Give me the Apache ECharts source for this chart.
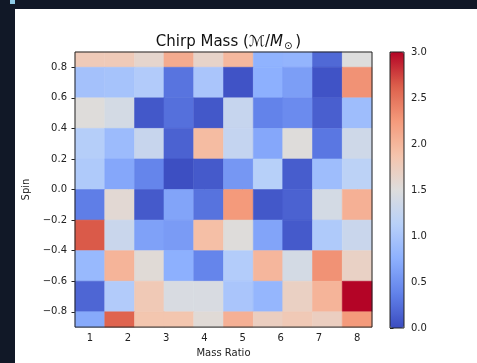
<!DOCTYPE html>
<html>
<head>
<meta charset="utf-8">
<script src="https://cdn.jsdelivr.net/npm/echarts@6/dist/echarts.min.js"></script>
<style>
  html, body { margin: 0; padding: 0; background: #111827; }
  #chart { width: 477px; height: 363px; }
</style>
</head>
<body>
<div id="chart"></div>
<script>
  // cell centres
  const massRatio = [1.0, 1.78, 2.56, 3.33, 4.11, 4.89, 5.67, 6.44, 7.22, 8.0]
  const spin = [0.9, 0.7, 0.5, 0.3, 0.1, -0.1, -0.3, -0.5, -0.7, -0.9]
  // chirp mass, rows top (spin 0.9) to bottom (spin -0.9)
  const chirpMass = [
    [1.78, 1.78, 1.62, 2.1, 1.65, 1.98, 0.78, 0.8, 0.2, 1.5],
    [0.95, 0.97, 1.07, 0.28, 1.0, 0.05, 0.75, 0.6, 0.05, 2.3],
    [1.52, 1.4, 0.08, 0.25, 0.08, 1.27, 0.38, 0.45, 0.13, 0.9],
    [1.1, 0.88, 1.28, 0.15, 1.95, 1.25, 0.68, 1.52, 0.3, 1.35],
    [1.05, 0.68, 0.4, 0.02, 0.1, 0.55, 1.12, 0.12, 0.9, 1.17],
    [0.35, 1.58, 0.1, 0.65, 0.27, 2.25, 0.08, 0.15, 1.4, 2.05],
    [2.65, 1.3, 0.63, 0.58, 1.92, 1.52, 0.65, 0.1, 1.05, 1.3],
    [0.85, 2.02, 1.55, 0.75, 0.4, 1.08, 2.0, 1.4, 2.3, 1.68],
    [0.18, 1.07, 1.8, 1.45, 1.45, 1.0, 0.82, 1.7, 2.02, 3.0],
    [0.7, 2.6, 1.85, 1.85, 1.55, 2.05, 1.72, 1.8, 1.72, 2.25],
  ]
  const xTicks = [1, 2, 3, 4, 5, 6, 7, 8]
  const yTicks = [-0.8, -0.6, -0.4, -0.2, 0, 0.2, 0.4, 0.6, 0.8]
  const coolwarm = ['#3b4cc0', '#6282ea', '#8db0fe', '#b8d0f9', '#dddddd', '#f5c4ac', '#f49a7b', '#dd604c', '#b40426']

  const cellW = 7 / 9
  const cellH = 0.2
  const font = 'DejaVu Sans'
  const textColor = '#222'

  const data = []
  spin.forEach((y, i) => {
    massRatio.forEach((x, j) => {
      data.push([x, y, chirpMass[i][j]])
    })
  })

  const chart = echarts.init(document.getElementById('chart'))
  chart.setOption({
    backgroundColor: '#111827',
    animation: false,
    graphic: [
      { type: 'rect', left: 15, top: 9, shape: { width: 462, height: 354 }, style: { fill: '#ffffff' }, z: -10 },
      { type: 'rect', left: 10, top: 0, shape: { width: 5, height: 4 }, style: { fill: '#8ecae6' }, z: -10 },
    ],
    title: {
      text: 'Chirp Mass ({c|ℳ}/{i|M}{s|⊙})',
      left: 223.5,
      top: 28,
      textAlign: 'center',
      textStyle: {
        fontFamily: font,
        fontSize: 15,
        fontWeight: 'normal',
        color: '#111',
        rich: {
          c: { fontFamily: font, fontSize: 15, fontStyle: 'italic', color: '#111' },
          i: { fontFamily: font, fontSize: 15, fontStyle: 'italic', color: '#111' },
          s: { fontFamily: font, fontSize: 10, color: '#111', padding: [8, 3, 0, 1] },
        },
      },
    },
    grid: [
      { left: 75, top: 52, width: 297, height: 276, show: true, borderColor: '#222', borderWidth: 1, backgroundColor: 'transparent', z: 10 },
      { left: 390, top: 52, width: 14, height: 276, show: true, borderColor: '#222', borderWidth: 1, backgroundColor: 'transparent', z: 10 },
    ],
    xAxis: [
      {
        type: 'value',
        gridIndex: 0,
        min: 0.6111,
        max: 8.3889,
        name: 'Mass Ratio',
        nameLocation: 'middle',
        nameGap: 19,
        nameTextStyle: { fontFamily: font, fontSize: 10, color: textColor },
        axisLine: { show: false },
        splitLine: { show: false },
        axisTick: { show: true, length: 3.5, customValues: xTicks, lineStyle: { color: '#222' } },
        axisLabel: { fontFamily: font, fontSize: 10, color: textColor, margin: 6, customValues: xTicks },
      },
      { type: 'value', gridIndex: 1, show: false, min: 0, max: 1 },
    ],
    yAxis: [
      {
        type: 'value',
        gridIndex: 0,
        min: -0.9,
        max: 0.9,
        name: 'Spin',
        nameLocation: 'middle',
        nameGap: 33,
        nameTextStyle: { fontFamily: font, fontSize: 10, color: textColor },
        axisLine: { show: false },
        splitLine: { show: false },
        axisTick: { show: true, length: 3.5, customValues: yTicks, lineStyle: { color: '#222' } },
        axisLabel: {
          fontFamily: font, fontSize: 10, color: textColor, margin: 8, customValues: yTicks,
          formatter: (v) => v.toFixed(1).replace('-', '\u2212'),
        },
      },
      {
        type: 'value',
        gridIndex: 1,
        position: 'right',
        min: 0,
        max: 3,
        interval: 0.5,
        axisLine: { show: false },
        splitLine: { show: false },
        axisTick: { show: true, length: 3.5, lineStyle: { color: '#222' } },
        axisLabel: { fontFamily: font, fontSize: 10, color: textColor, margin: 7, formatter: (v) => v.toFixed(1) },
      },
    ],
    visualMap: {
      type: 'continuous',
      min: 0,
      max: 3,
      seriesIndex: 0,
      dimension: 2,
      calculable: false,
      hoverLink: false,
      left: 390,
      top: 52,
      padding: 0,
      itemWidth: 14,
      itemHeight: 276,
      text: null,
      inRange: { color: coolwarm },
    },
    series: [
      {
        type: 'custom',
        xAxisIndex: 0,
        yAxisIndex: 0,
        data,
        encode: { x: 0, y: 1 },
        renderItem: (params, api) => {
          const x = api.value(0)
          const y = api.value(1)
          const p0 = api.coord([x - cellW / 2, y + cellH / 2])
          const p1 = api.coord([x + cellW / 2, y - cellH / 2])
          const cs = params.coordSys
          const shape = echarts.graphic.clipRectByRect(
            { x: p0[0], y: p0[1], width: p1[0] - p0[0], height: p1[1] - p0[1] },
            { x: cs.x, y: cs.y, width: cs.width, height: cs.height }
          )
          const color = api.visual('color')
          return shape && {
            type: 'rect',
            shape,
            style: { fill: color, stroke: color, lineWidth: 0.6 },
          }
        },
      },
    ],
  })
</script>
</body>
</html>
